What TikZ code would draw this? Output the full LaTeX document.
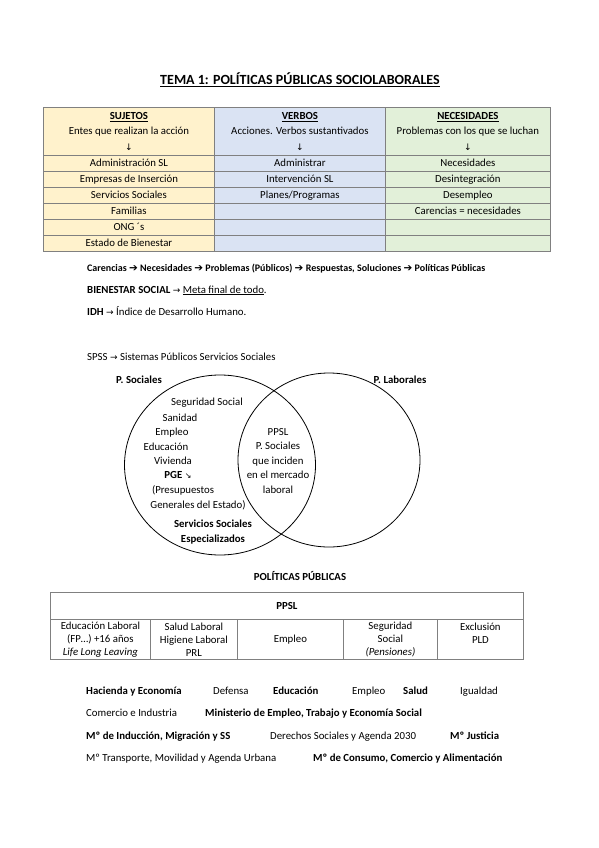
\documentclass[tikz,border=0pt]{standalone}
\usepackage{fontspec}
\setmainfont{Carlito}
\newfontfamily\symfont{DejaVu Sans}
\usetikzlibrary{positioning, shapes.geometric}

\definecolor{sujetoscol}{HTML}{FFF2CC}
\definecolor{verboscol}{HTML}{DAE3F3}
\definecolor{necescol}{HTML}{E2F0D9}
\definecolor{rulecol}{HTML}{808080}

\newcommand{\arr}{{\symfont\fontsize{9}{10}\selectfont →}}
\newcommand{\darr}{{\symfont\fontsize{9}{10}\selectfont ↓}}
\newcommand{\barr}{{\symfont\bfseries\fontsize{10.5}{11}\selectfont ➔}}

\begin{document}
\begin{tikzpicture}[x=1pt, y=-1pt,
                    txt/.style={inner sep=0pt, font=\fontsize{10.8}{13}\selectfont},
                    cell/.style={draw=rulecol, line width=0.8pt, anchor=north west, minimum height=16pt, inner sep=0pt, font=\fontsize{10.8}{13}\selectfont},
                    headcell/.style={cell, minimum height=48pt, align=center, font=\fontsize{10.8}{15.5}\selectfont},
                    lowcell/.style={cell, minimum height=40pt, align=center, font=\fontsize{10.8}{13}\selectfont},
                    venn/.style={ellipse, draw, line width=0.8pt, inner sep=0pt}
                ]
                \useasboundingbox (0,0) rectangle (599,848);

                \node[txt, font=\fontsize{14}{16}\selectfont\bfseries] (title) at (300,80) {\underline{TEMA 1: POLÍTICAS PÚBLICAS SOCIOLABORALES}};

                % tabla de sujetos, verbos y necesidades
                \node[headcell, fill=sujetoscol, minimum width=171pt] (sujetos) at (43,107) {\textbf{\underline{SUJETOS}}\\Entes que realizan la acción\\\darr};
                \node[headcell, fill=verboscol, minimum width=171pt] (verbos) at (214,107) {\textbf{\underline{VERBOS}}\\Acciones. Verbos sustantivados\\\darr};
                \node[headcell, fill=necescol, minimum width=165pt] (necesidades) at (385,107) {\textbf{\underline{NECESIDADES}}\\Problemas con los que se luchan\\\darr};
                \foreach \a/\b/\c [count=\i] in {Administración SL/Administrar/Necesidades,
                                                 Empresas de Inserción/Intervención SL/Desintegración,
                                                 Servicios Sociales/{Planes/Programas}/Desempleo,
                                                 Familias/ /Carencias = necesidades,
                                                 ONG ´s/ / ,
                                                 Estado de Bienestar/ / }{
                    \node[cell, fill=sujetoscol, minimum width=171pt] (suj\i) at (43,{155+16*(\i-1)}) {\strut\a};
                    \node[cell, fill=verboscol, minimum width=171pt] (ver\i) at (214,{155+16*(\i-1)}) {\strut\b};
                    \node[cell, fill=necescol, minimum width=165pt] (nec\i) at (385,{155+16*(\i-1)}) {\strut\c};
                }

                \node[txt, anchor=base west, font=\fontsize{10}{12}\selectfont] (cadena) at (87,271) {\textbf{Carencias \barr{} Necesidades \barr{} Problemas (Públicos) \barr{} Respuestas, Soluciones \barr{} Políticas Públicas}};
                \node[txt, anchor=base west] (bienestar) at (87,293) {\textbf{BIENESTAR SOCIAL} \arr{} \underline{Meta final de todo}.};
                \node[txt, anchor=base west] (idh) at (87,315) {\textbf{IDH} \arr{} Índice de Desarrollo Humano.};
                \node[txt, anchor=base west] (spss) at (87,360) {SPSS \arr{} Sistemas Públicos Servicios Sociales};

                % diagrama de Venn
                \node[venn, minimum width=191pt, minimum height=180pt] (sociales) at (220,465) {};
                \node[venn, minimum width=182pt, minimum height=174pt] (laborales) at (329,460) {};
                \node[txt] (psoc) at (139,380) {\textbf{P. Sociales}};
                \node[txt] (plab) at (400,380) {\textbf{P. Laborales}};
                \foreach \lbl/\x/\y [count=\i] in {{Seguridad Social}/207/402, {Sanidad}/180/418, {Empleo}/172/432,
                                                 {Educación}/166/447, {Vivienda}/173/461,
                                                 {\textbf{PGE} {\symfont\fontsize{8}{9}\selectfont ↘}}/178/475,
                                                 {(Presupuestos}/183/490, {Generales del Estado)}/198/505,
                                                 {\textbf{Servicios Sociales}}/213/524, {\textbf{Especializados}}/213/539}
                    \node[txt, anchor=base] (soc\i) at (\x,{\y+3.5}) {\lbl};
                \node[txt, align=center, font=\fontsize{10.8}{14.5}\selectfont] (comun) at (278,461) {PPSL\\P. Sociales\\que inciden\\en el mercado\\laboral};

                % politicas publicas
                \node[txt] (pp) at (300,576) {\textbf{POLÍTICAS PÚBLICAS}};
                \node[cell, minimum width=473pt, minimum height=27pt] (ppsl) at (50,592) {\textbf{PPSL}};
                \foreach \x/\w/\lbl [count=\i] in {50/100/{Educación Laboral\\(FP…) +16 años\\\textit{Life Long Leaving}},
                                                 150/87/{Salud Laboral\\Higiene Laboral\\PRL},
                                                 237/106/{Empleo},
                                                 343/94/{Seguridad\\Social\\\textit{(Pensiones)}},
                                                 437/86/{Exclusión\\PLD\\\mbox{}}}
                    \node[lowcell, minimum width=\w pt] (area\i) at (\x,619) {\lbl};

                % ministerios
                \node[txt, anchor=base west] (hacienda) at (86,694) {\textbf{Hacienda y Economía}};
                \node[txt, anchor=base west] (defensa) at (213,694) {Defensa};
                \node[txt, anchor=base west] (educacion) at (273,694) {\textbf{Educación}};
                \node[txt, anchor=base west] (empleo) at (352,694) {Empleo};
                \node[txt, anchor=base west] (salud) at (403,694) {\textbf{Salud}};
                \node[txt, anchor=base west] (igualdad) at (460,694) {Igualdad};
                \node[txt, anchor=base west] (comercio) at (86,716) {Comercio e Industria};
                \node[txt, anchor=base west] (trabajo) at (205,716) {\textbf{Ministerio de Empleo, Trabajo y Economía Social}};
                \node[txt, anchor=base west] (migracion) at (86,739) {\textbf{Mº de Inducción, Migración y SS}};
                \node[txt, anchor=base west] (derechos) at (270,739) {Derechos Sociales y Agenda 2030};
                \node[txt, anchor=base west] (justicia) at (450,739) {\textbf{Mº Justicia}};
                \node[txt, anchor=base west] (transporte) at (86,761) {Mº Transporte, Movilidad y Agenda Urbana};
                \node[txt, anchor=base west] (consumo) at (313,761) {\textbf{Mº de Consumo, Comercio y Alimentación}};
                \end{tikzpicture}
\end{document}
